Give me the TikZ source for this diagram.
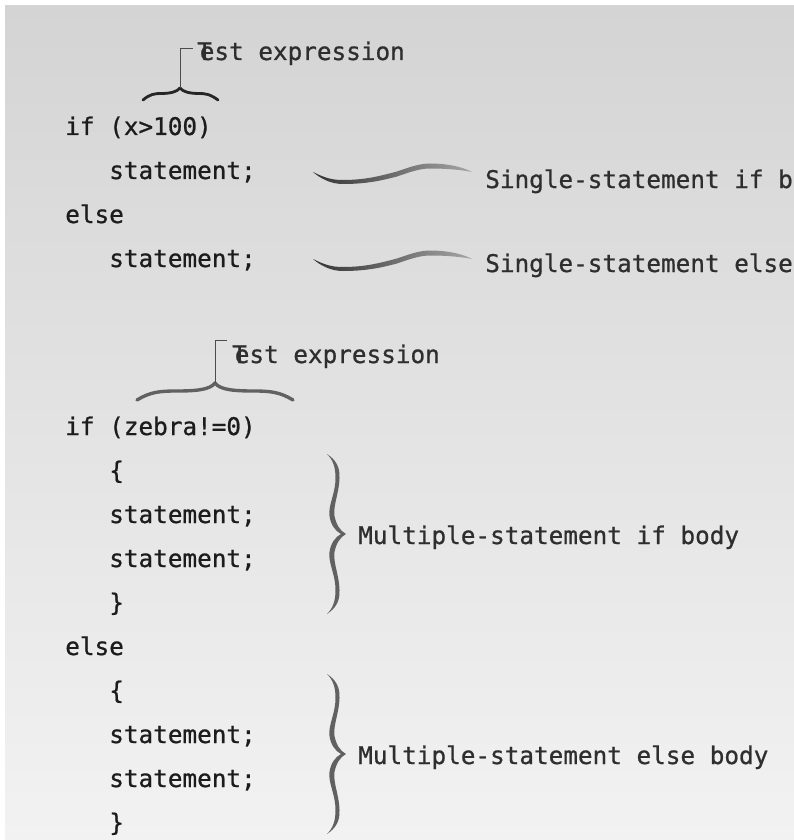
\documentclass[tikz,border=0pt]{standalone}
\usepackage{fontspec}
\newfontfamily\codefont{DejaVu Sans Mono}[FakeBold=0.8]
\definecolor{bgtop}{HTML}{D4D4D4}
\definecolor{bgbottom}{HTML}{F2F2F2}
\definecolor{ink}{HTML}{1C1C1C}
\newcommand{\codesize}{\codefont\fontsize{17.3}{20}\selectfont}

\begin{document}
\begin{tikzpicture}[x=0.025cm, y=-0.025cm,
		code/.style={anchor=base west, inner sep=0pt, font=\codesize, text=ink},
		note/.style={code, text=black!82},
		hook/.style={draw=black!70, line width=0.7pt},
		topbrace/.style={draw=black!85, line width=2pt, line cap=round, line join=round},
		swoosh/.pic={\shade[left color=black!80, right color=black!35]
			(0,0) .. controls (12,6) and (19,8) .. (30,8) .. controls (52,8) and (67,4) .. (84,-0.5)
			.. controls (97,-5) and (107,-8.5) .. (117,-8.5) .. controls (137,-8.5) and (152,-4) .. (159,0)
			.. controls (149,-2) and (135,-3.5) .. (117,-3.5) .. controls (107,-3.5) and (97,0) .. (84,4.5)
			.. controls (67,9) and (52,12) .. (30,12) .. controls (17,12) and (7,6) .. (0,0) -- cycle;},
		curly/.pic={\fill[black!62]
			(-18,-80) .. controls (-9,-74) and (-5,-67) .. (-5.5,-56) .. controls (-6,-40) and (-12,-29) .. (-10.5,-18)
			.. controls (-9,-10) and (-5,-3) .. (1,0) .. controls (-5,3) and (-9,10) .. (-10.5,18)
			.. controls (-12,29) and (-6,40) .. (-5.5,56) .. controls (-5,67) and (-9,74) .. (-18,80)
			.. controls (-12,74) and (-9.5,67) .. (-9.5,56) .. controls (-9.5,40) and (-17,29) .. (-15.5,18)
			.. controls (-14.5,10) and (-10,3) .. (-4,0) .. controls (-10,-3) and (-14.5,-10) .. (-15.5,-18)
			.. controls (-17,-29) and (-9.5,-40) .. (-9.5,-56) .. controls (-9.5,-67) and (-12,-74) .. (-18,-80) -- cycle;}]

	\useasboundingbox (0,0) rectangle (794,840);
	\fill[white] (0,0) rectangle (794,840);
	\shade[top color=bgtop, bottom color=bgbottom] (5,6) rectangle (794,840);

	\node[note] (testA) at (197,60) {T\kern-.5em est expression};
	\node[code] (ifA) at (65,135) {if (x>100)};
	\node[code] (stA) at (109,179) {statement;};
	\node[code] (elseA) at (65,223) {else};
	\node[code] (stB) at (109,267) {statement;};
	\node[note] (singleIf) at (485,188) {Single-statement if b};
	\node[note] (singleElse) at (485,272) {Single-statement else};

	\coordinate (tipA) at (180,88);
	\coordinate (hookA) at (193,48);
	\draw[topbrace] (143,100) .. controls (150,94) and (155,93.5) .. (161,93.5) .. controls (170,93.5) and (177,92) .. (tipA)
		.. controls (183,92) and (190,93.5) .. (199,93.5) .. controls (205,93.5) and (210,94) .. (218,100);
	\draw[hook] (tipA) |- (hookA);
	\pic at (313,172) {swoosh};
	\pic at (313,259) {swoosh};

	\node[note] (testB) at (232,363) {T\kern-.5em est expression};
	\node[code] (ifB) at (65,435) {if (zebra!=0)};
	\node[code] (openA) at (109,479) {\{};
	\node[code] (stC) at (109,523) {statement;};
	\node[code] (stD) at (109,567) {statement;};
	\node[code] (closeA) at (109,611) {\}};
	\node[code] (elseB) at (65,655) {else};
	\node[code] (openB) at (109,699) {\{};
	\node[code] (stE) at (109,743) {statement;};
	\node[code] (stF) at (109,787) {statement;};
	\node[code] (closeB) at (109,831) {\}};
	\node[note] (multiIf) at (358,544) {Multiple-statement if body};
	\node[note] (multiElse) at (358,764) {Multiple-statement else body};

	\coordinate (tipB) at (215,383);
	\coordinate (hookB) at (227,340);
	\draw[topbrace, draw=black!62, line width=2.4pt] (137,400) .. controls (150,392) and (160,391) .. (176,391)
		.. controls (195,391) and (210,390) .. (tipB) .. controls (220,390) and (235,391) .. (254,391)
		.. controls (270,391) and (280,392) .. (293,400);
	\draw[hook] (tipB) |- (hookB);
	\pic at (345,534) {curly};
	\pic at (345,754) {curly};
\end{tikzpicture}
\end{document}
